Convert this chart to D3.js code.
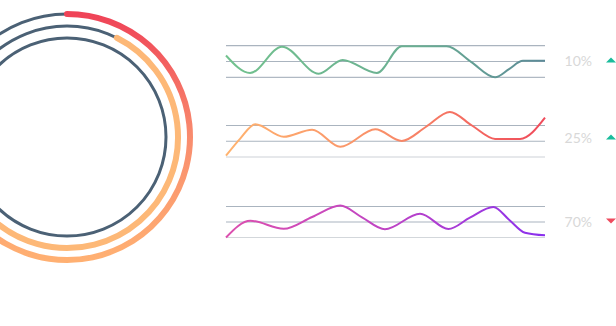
<!DOCTYPE html>
<html>
<head>
<meta charset="utf-8">
<script src="https://cdn.jsdelivr.net/npm/d3@7"></script>
<style>
  body { margin: 0; background: #fff; }
  svg { display: block; }
  .pct { font-family: Lato, sans-serif; font-size: 14px; fill: #d8d8d8; }
</style>
</head>
<body>
<svg width="616" height="326"></svg>
<script>
// ring progress (fraction of a full turn)
const ringStart = [0, 0.074, 0];
const ringEnd = [0.7, 0.7, 0];

// sparkline series, x in periods
const x1 = [0, 0.83, 1.93, 3.2, 4.02, 5.2, 6.06, 7.61, 8.45, 9.28, 9.76, 10.24, 11];
const y1 = [13.8, 2.7, 19.4, 2.3, 11, 2.7, 19.6, 19.6, 9.8, 0, 5.2, 10.4, 10.4];

const x2 = [0, 0.49, 1.01, 1.99, 2.97, 3.94, 5.15, 6.06, 6.9, 7.72, 8.48, 9.28, 10.14, 11];
const y2 = [0.8, 11.7, 20.8, 12.8, 17.3, 6.5, 17.6, 10.2, 19.2, 28.6, 20, 11.5, 11.5, 25];

const x3 = [0, 0.84, 1.99, 2.97, 3.94, 4.69, 5.48, 6.69, 7.67, 8.41, 9.22, 9.76, 10.31, 11];
const y3 = [0, 10.8, 5.6, 13.2, 20.6, 13, 5.3, 15.3, 5.5, 12.8, 19.7, 11.5, 3.1, 1.4];

const gridValues = [0, 10, 20];
const labels = ['10%', '25%', '70%'];
const trends = ['up', 'up', 'down'];

const svg = d3.select('svg');
const defs = svg.append('defs');

// ---- rings ----
const cx = 67, cy = 137;
const radii = [123, 111, 99];
const slate = '#4b6175';

// gradient coords are in the rings group's local space (origin at centre)
const og = defs.append('linearGradient')
  .attr('id', 'outerGrad')
  .attr('gradientUnits', 'userSpaceOnUse')
  .attr('x1', 0).attr('y1', -123).attr('x2', 0).attr('y2', 123);
og.append('stop').attr('offset', '0%').attr('stop-color', '#ef4357');
og.append('stop').attr('offset', '50%').attr('stop-color', '#f98c6e');
og.append('stop').attr('offset', '100%').attr('stop-color', '#ffb072');

const ringFill = ['url(#outerGrad)', '#fdb877', 'none'];

const rings = svg.append('g').attr('transform', `translate(${cx},${cy})`);
const turn = d3.scaleLinear().domain([0, 1]).range([0, 2 * Math.PI]);

radii.forEach((r, i) => {
  rings.append('circle')
    .attr('r', r)
    .attr('fill', 'none')
    .attr('stroke', slate)
    .attr('stroke-width', 3);
  if (ringEnd[i] > ringStart[i]) {
    const a0 = turn(ringStart[i]), a1 = turn(ringEnd[i]);
    const p = d3.path();
    p.arc(0, 0, r, a0 - Math.PI / 2, a1 - Math.PI / 2);
    rings.append('path')
      .attr('d', p.toString())
      .attr('fill', 'none')
      .attr('stroke', ringFill[i])
      .attr('stroke-width', 6)
      .attr('stroke-linecap', 'round');
  }
});

// ---- sparklines ----
const panels = [
  { xs: x1, ys: y1, top: 45.7, bottom: 77.3, c0: '#72c28e', c1: '#5c8a98', mid: 0.6, labelY: 61, gridCol: ['#b0b9c3', '#aab4bf', '#aab4bf'] },
  { xs: x2, ys: y2, top: 125.5, bottom: 157, c0: '#ffb36f', c1: '#ef4a5a', mid: 0.5, labelY: 138, gridCol: ['#cdd2d7', '#aab4bf', '#aab4bf'] },
  { xs: x3, ys: y3, top: 206.5, bottom: 237.5, c0: '#dc4fae', c1: '#8a30ee', mid: 0.5, labelY: 222, gridCol: ['#d3d7db', '#aab4bf', '#aab4bf'] }
];

const xScale = d3.scaleLinear().domain([0, 11]).range([226, 545]);

panels.forEach((p, i) => {
  const yScale = d3.scaleLinear().domain([0, 20]).range([p.bottom, p.top]);
  const g = svg.append('g');

  g.selectAll('line.grid').data(gridValues).enter().append('line')
    .attr('class', 'grid')
    .attr('x1', xScale(0)).attr('x2', xScale(11))
    .attr('y1', d => yScale(d)).attr('y2', d => yScale(d))
    .attr('stroke', (d, j) => p.gridCol[j])
    .attr('stroke-width', 1.2);

  const gid = 'lineGrad' + i;
  const lg = defs.append('linearGradient')
    .attr('id', gid)
    .attr('gradientUnits', 'userSpaceOnUse')
    .attr('x1', xScale(0)).attr('x2', xScale(11)).attr('y1', 0).attr('y2', 0);
  lg.append('stop').attr('offset', '0%').attr('stop-color', p.c0);
  lg.append('stop').attr('offset', (p.mid * 100) + '%').attr('stop-color', d3.interpolateRgb(p.c0, p.c1)(0.35));
  lg.append('stop').attr('offset', '100%').attr('stop-color', p.c1);

  const data = p.xs.map((x, k) => ({ x, y: p.ys[k] }));
  const line = d3.line()
    .x(d => xScale(d.x))
    .y(d => yScale(d.y))
    .curve(d3.curveMonotoneX);

  g.append('path')
    .attr('d', line(data))
    .attr('fill', 'none')
    .attr('stroke', `url(#${gid})`)
    .attr('stroke-width', 2)
    .attr('stroke-linejoin', 'round');

  g.append('text')
    .attr('class', 'pct')
    .attr('x', 592)
    .attr('y', p.labelY)
    .attr('dy', '0.35em')
    .attr('text-anchor', 'end')
    .text(labels[i]);

  const tx = 611, ty = p.labelY - 1;
  const tri = trends[i] === 'up'
    ? [[tx - 5, ty + 2.5], [tx + 5, ty + 2.5], [tx, ty - 2.5]]
    : [[tx - 5, ty - 2.5], [tx + 5, ty - 2.5], [tx, ty + 2.5]];
  g.append('path')
    .attr('d', d3.line()(tri) + 'Z')
    .attr('fill', trends[i] === 'up' ? '#1abc9c' : '#ee4b5e');
});
</script>
</body>
</html>
